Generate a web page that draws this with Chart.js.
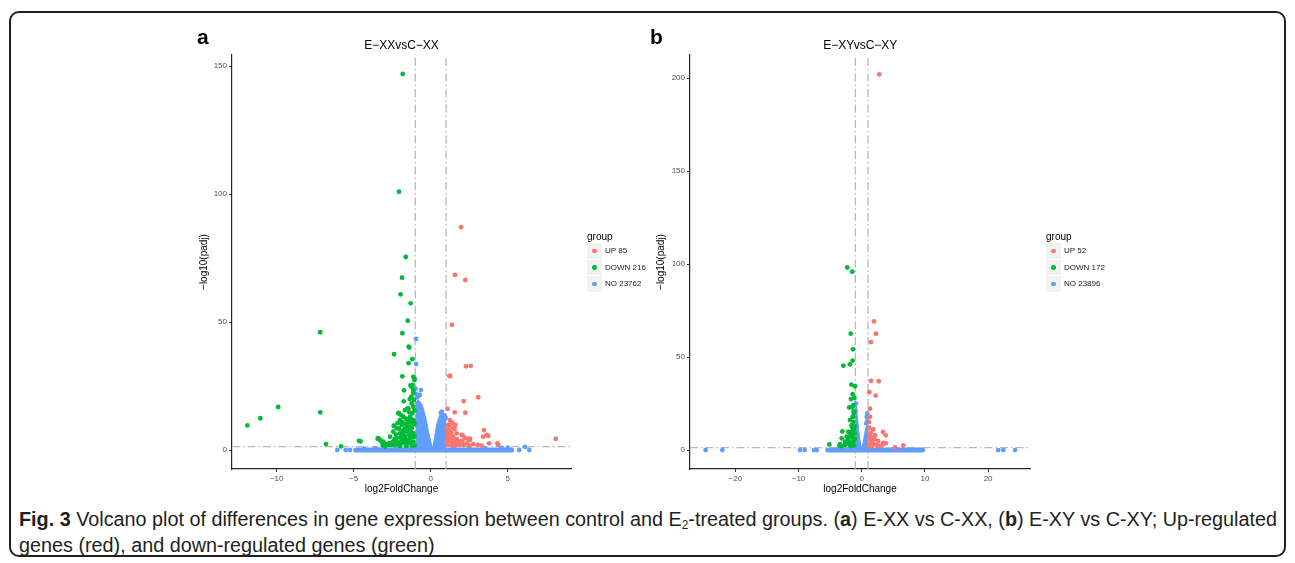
<!DOCTYPE html>
<html><head><meta charset="utf-8">
<script src="https://cdn.jsdelivr.net/npm/chart.js@4.4.1/dist/chart.umd.min.js"></script>
<style>
html,body{margin:0;padding:0;background:#fff;}
body{width:1295px;height:563px;position:relative;overflow:hidden;font-family:"Liberation Sans",Arial,sans-serif;}
.frame{position:absolute;left:9px;top:11px;width:1273px;height:542px;border:2px solid #231f20;border-radius:10px;}
.cv{position:absolute;}
.t{position:absolute;white-space:nowrap;line-height:1;color:#000;}
.key{position:absolute;width:15px;height:15.5px;background:#f2f2f2;}
.dot{position:absolute;width:4.6px;height:4.6px;border-radius:50%;left:5.2px;top:5.45px;}
.cap{position:absolute;left:19px;white-space:nowrap;line-height:1;color:#231f20;font-size:20px;transform-origin:0 0;
 font-family:"Liberation Sans",Arial,sans-serif;}
.cap b{font-weight:bold;}
.cap sub{font-size:12px;vertical-align:-3px;line-height:0;}
</style></head>
<body>
<div class="frame"></div>
<div class="cv" style="left:180px;top:20px;"><canvas id="chartA" width="420" height="480"></canvas></div>
<div class="cv" style="left:640px;top:20px;"><canvas id="chartB" width="420" height="480"></canvas></div>
<div id="labels"></div>
<div class="cap" id="cap1"><b>Fig. 3</b> Volcano plot of differences in gene expression between control and E<sub>2</sub>-treated groups. (<b>a</b>) E-XX vs C-XX, (<b>b</b>) E-XY vs C-XY; Up-regulated</div>
<div class="cap" id="cap2">genes (red), and down-regulated genes (green)</div>
<script>
// ---------------- data: panel a (E-XX vs C-XX) ----------------
const titleA = "E\u2212XXvsC\u2212XX";
const xTicksA = [-10, -5, 0, 5];
const yTicksA = [0, 50, 100, 150];
const xRangeA = [-12.9, 9.11];
const yRangeA = [-7.42, 154.3];
const legendA = ["UP 85", "DOWN 216", "NO 23762"];
const upA = [[1.97,87.1],[1.58,68.4],[2.25,66.4],[1.38,48.9],[2.29,32.7],[2.60,32.9],[1.21,28.9],[1.27,28.9],
 [3.09,20.6],[2.14,19.1],[1.10,16.1],[1.56,14.7],[2.25,14.6],[1.38,10.8],[1.60,9.9],[1.56,8.2],[3.46,7.8],
 [1.34,6.8],[2.08,5.7],[3.74,5.5],[2.44,4.3],[2.55,4.4],[2.05,3.5],[8.12,4.4],[4.33,2.6],[4.39,2.1],[3.79,2.6],
 [3.05,1.95],[3.31,1.7],[2.77,2.3],[1.25,11.7],[1.14,9.8],[1.36,10.4],[1.47,8.5],[1.25,7.2],[1.14,5.9],[1.47,5.2],
 [1.69,6.5],[2.01,5.9],[2.23,4.6],[2.55,3.9],[1.90,3.3],[1.58,3.3],[1.25,3.9],[1.36,2.6],[1.79,2.3],[2.34,2.6],
 [2.12,1.95],[3.64,5.9],[3.40,5.2],[1.10,2.0],[1.10,4.5],[1.60,1.8],[2.50,1.7],[1.05,8.0],
 [1.05,3.0],[1.15,7.9],[1.30,5.5],[1.45,3.6],[1.70,4.2],[1.20,9.0],[1.85,2.0],[1.40,1.8],[1.08,6.2]];
const downA = [[-1.82,146.9],[-2.06,100.9],[-1.62,75.4],[-1.86,67.3],[-1.95,60.8],[-1.30,57.3],[-1.49,50.5],
 [-7.17,46.0],[-1.84,45.6],[-1.39,40.0],[-1.43,40.4],[-2.38,37.4],[-1.19,35.5],[-1.43,33.9],[-1.84,28.8],
 [-1.05,27.9],[-1.05,27.3],[-1.13,28.6],[-1.31,25.2],[-1.24,24.7],[-1.17,25.4],[-1.13,23.4],[-1.73,23.3],
 [-1.13,22.4],[-1.36,19.9],[-9.90,16.8],[-11.06,12.4],[-7.17,14.7],[-11.90,9.6],[-1.54,16.1],[-2.08,14.5],
 [-6.80,2.3],[-5.82,1.4],[-4.66,3.6],[-4.55,3.4],[-3.44,4.4],[-3.29,3.9],[-3.18,3.2],[-3.03,2.6],[-2.86,2.2],
 [-2.71,2.7],[-3.12,1.8],[-2.97,1.3],[-1.23,18.2],[-1.13,16.9],[-1.45,16.3],[-1.67,15.6],[-2.10,14.3],
 [-1.78,13.0],[-1.34,13.0],[-1.56,10.4],[-1.88,9.8],[-2.21,8.5],[-2.43,7.2],[-2.64,5.2],[-1.99,6.5],[-1.56,7.2],
 [-1.23,8.5],[-1.13,11.7],[-1.13,6.5],[-1.34,4.6],[-1.78,3.9],[-2.21,4.6],[-3.40,4.6],[-3.08,3.3],[-2.75,1.95],
 [-2.32,3.3],[-1.88,2.6],[-1.45,2.6],[-1.13,3.3],[-1.20,14.3],[-1.05,10.4],[-1.05,5.2],[-1.45,11.7],[-1.67,5.2],
 [-2.00,11.7],[-1.30,9.1],[-1.05,15.5],[-1.10,19.5],[-1.25,20.8],[-1.60,12.2],[-1.90,4.3],[-2.20,2.2],[-2.45,2.0],
 [-2.40,9.5],[-1.70,8.2],[-1.40,6.0],[-1.05,1.8],[-1.60,1.6],[-1.20,1.6],[-2.00,1.5],[-1.75,19.0],
 [-1.25,12.0],[-1.35,10.8],[-1.50,9.0],[-1.65,10.0],[-1.80,7.5],[-2.05,8.3],[-2.25,6.0],[-2.35,4.2],[-2.10,3.0],
 [-1.95,5.0],[-1.75,6.0],[-1.55,4.0],[-1.35,3.0],[-1.15,5.0],[-1.25,6.8],[-1.45,7.8],[-1.85,11.0],[-2.15,10.5],
 [-1.65,2.8],[-2.45,3.2],[-2.60,2.0],[-1.10,10.0],[-1.40,14.8],[-1.90,13.5]];
const noA = [[-0.95,43.4],[-0.95,33.6],[-0.64,23.4],[-0.71,21.5],[-0.90,20.5],[-0.80,21.0],[-0.98,24.0],
 [-0.97,22.0],[0.72,15.0],[0.67,14.5],[0.97,12.5],[0.90,13.5],[-6.06,0],[-5.52,0],[-5.24,0],[5.75,0],[6.12,1.2],
 [6.40,0],[-1.5,0.9],[1.5,0.8],[2.5,0.9],[-2.3,0.8],[3.5,0.7],[4.6,0.8],[-3.6,0.6],[5.0,0.9],[-4.3,0.5]];
const noBandA = [[-4.87,0],[5.26,0]];
const noLeftWingA = [[-1,18.5],[-0.8,19.5],[-0.55,17.5],[-0.38,14],[-0.26,11],[-0.12,6.5],[0.02,3],[0.12,0.8]];
const noRightWingA = [[0.12,0.8],[0.2,3.2],[0.3,6.8],[0.4,10.2],[0.5,12.2],[0.65,14.2],[0.82,13.2],[1,11.8]];

// ---------------- data: panel b (E-XY vs C-XY) ----------------
const titleB = "E\u2212XYvsC\u2212XY";
const xTicksB = [-20, -10, 0, 10, 20];
const yTicksB = [0, 50, 100, 150, 200];
const xRangeB = [-27.17, 26.63];
const yRangeB = [-10.2, 212.5];
const legendB = ["UP 52", "DOWN 172", "NO 23896"];
const upB = [[2.79,202.1],[1.95,69.2],[2.26,62.6],[1.47,58.1],[1.47,37.2],[2.69,37.0],[1.20,31.1],[2.21,29.3],
 [1.31,22.2],[1.31,17.9],[1.84,11.1],[3.37,9.7],[3.80,7.9],[1.42,9.3],[2.10,8.0],[1.58,6.3],[2.06,5.7],[1.31,3.2],
 [1.84,3.2],[2.37,2.7],[3.42,3.9],[3.84,3.6],[3.32,2.9],[5.27,1.4],[6.58,2.5],[1.15,6.0],[1.20,12.0],[1.10,2.2],
 [1.60,2.0],[2.80,2.2],[1.25,8.0],[1.50,4.5],[2.60,4.8],[1.15,15.0]];
const downB = [[-2.28,98.2],[-1.49,95.9],[-1.74,62.6],[-1.38,54.2],[-1.43,48.1],[-1.85,46.1],[-2.91,45.4],
 [-1.64,35.2],[-1.06,34.3],[-1.43,30.0],[-1.69,27.4],[-1.98,22.9],[-1.50,22.9],[-1.28,20.6],[-1.43,17.9],
 [-1.28,15.2],[-1.54,12.5],[-1.80,8.9],[-2.11,5.4],[-1.43,10.7],[-1.74,7.2],[-2.37,4.5],[-1.28,4.5],[-1.90,2.7],
 [-2.64,2.7],[-3.16,2.1],[-3.06,10.0],[-5.12,3.0],[-3.54,2.3],[-1.33,24.1],[-1.33,17.9],[-1.85,16.1],[-1.58,13.4],
 [-2.12,9.8],[-1.33,10.7],[-2.37,7.2],[-1.58,8.0],[-3.16,6.3],[-2.64,4.5],[-3.43,3.2],[-1.10,13.0],[-1.10,6.0],
 [-1.20,2.5],[-1.60,2.2],[-1.10,9.0],[-1.15,28.0],[-1.20,20.0],[-1.70,4.0],[-1.40,6.5],[-2.00,3.5],[-1.25,11.5]];
const noB = [[-0.90,25.0],[0.89,19.7],[0.79,17.9],[0.73,14.3],[0.92,15.5],[-0.95,21.0],[-24.70,0],[-22.05,0],
 [-9.76,0],[-9.02,0],[-7.54,0],[-7.12,0],[21.60,0],[22.40,0],[24.26,0]];
const noBandB = [[-5.38,0],[9.65,0]];
const noLeftWingB = [[-1,22],[-0.88,24],[-0.72,19],[-0.55,13],[-0.38,8],[-0.18,3.5],[0.05,1]];
const noRightWingB = [[0.05,1],[0.25,4.5],[0.45,8.5],[0.62,11.5],[0.8,13.5],[1,12.5]];

// thresholds
const fcCut = [-1, 1];
const padjCut = 1.3;

// ---------------- drawing ----------------
const COL = {up:'#F8766D', down:'#00BA38', no:'#619CFF'};
const FONT = '"Liberation Sans", Arial, sans-serif';
function pts(a){ return a.map(p => ({x:p[0], y:p[1]})); }
function fmt(v){ return v < 0 ? '\u2212' + Math.abs(v) : String(v); }

function panel(id, d){
  const ds = [];
  const dash = {showLine:true, borderColor:'#b8b8b8', borderWidth:1.3, borderDash:[8,3,1.5,3], pointRadius:0, order:30};
  fcCut.forEach(v => ds.push(Object.assign({data: pts([[v, d.yRange[0]], [v, d.yRange[1]]])}, dash)));
  ds.push(Object.assign({data: pts([[d.xRange[0], padjCut], [d.xRange[1], padjCut]])}, dash));
  ds.push({data: pts(d.band), showLine:true, borderColor:COL.no, borderWidth:5, borderCapStyle:'round', pointRadius:0, order:26});
  [d.lw, d.rw].forEach(w => ds.push({data: pts(w), showLine:true, borderColor:COL.no, backgroundColor:COL.no,
     borderWidth:1, tension:0.3, fill:'origin', pointRadius:0, order:25}));
  const P = {pointRadius:2.4, borderWidth:0, pointBorderWidth:0, showLine:false};
  ds.push(Object.assign({data: pts(d.no), backgroundColor:COL.no, pointBackgroundColor:COL.no, order:20}, P));
  ds.push(Object.assign({data: pts(d.down), backgroundColor:COL.down, pointBackgroundColor:COL.down, order:15}, P));
  ds.push(Object.assign({data: pts(d.up), backgroundColor:COL.up, pointBackgroundColor:COL.up, order:10}, P));

  const axis = (ticks, range, isX) => ({
    type:'linear', min:range[0], max:range[1],
    afterBuildTicks: s => { s.ticks = ticks.map(v => ({value:v})); },
    afterFit: s => { if (isX) s.height = 31; else s.width = d.yw; },
    grid:{display:true, drawOnChartArea:false, drawTicks:true, tickLength:3, color:'#333', lineWidth:1},
    border:{display:true, color:'#262626', width:1.2},
    ticks:{color:'#4d4d4d', padding:2, font:{size:8, family:FONT}, callback: v => fmt(v), maxRotation:0, autoSkip:false}
  });
  new Chart(document.getElementById(id), {
    type:'scatter',
    data:{datasets: ds},
    options:{
      responsive:false, devicePixelRatio:1, animation:false, events:[],
      layout:{padding:{top:35, right:d.pr, bottom:0, left:0}},
      plugins:{legend:{display:false}, tooltip:{enabled:false}, title:{display:false}},
      scales:{ x: axis(d.xt, d.xRange, true), y: axis(d.yt, d.yRange, false) }
    }
  });
}

panel('chartA', {xt:xTicksA, yt:yTicksA, xRange:xRangeA, yRange:yRangeA, up:upA, down:downA, no:noA,
  band:noBandA, lw:noLeftWingA, rw:noRightWingA, yw:52, pr:29});
panel('chartB', {xt:xTicksB, yt:yTicksB, xRange:xRangeB, yRange:yRangeB, up:upB, down:downB, no:noB,
  band:noBandB, lw:noLeftWingB, rw:noRightWingB, yw:50, pr:30});

// ---------------- text & legends ----------------
const L = document.getElementById('labels');
function txt(s, x, baseline, fs, o){
  o = o || {};
  const e = document.createElement('div');
  e.className = 't';
  e.textContent = s;
  e.style.fontSize = fs + 'px';
  e.style.left = x + 'px';
  e.style.top = (baseline - 0.8465 * fs) + 'px';
  if (o.bold) e.style.fontWeight = 'bold';
  if (o.color) e.style.color = o.color;
  if (o.center) e.style.transform = 'translateX(-50%)';
  L.appendChild(e);
  return e;
}
function ytitle(s, cx, cy, fs){
  const e = document.createElement('div');
  e.className = 't';
  e.textContent = s;
  e.style.fontSize = fs + 'px';
  e.style.left = cx + 'px';
  e.style.top = cy + 'px';
  e.style.transform = 'translate(-50%,-50%) rotate(-90deg)';
  L.appendChild(e);
}
function legend(x, items){
  txt('group', x, 240.6, 10);
  const cols = [COL.up, COL.down, COL.no];
  const centers = [251, 267.5, 284];
  items.forEach((s, i) => {
    const k = document.createElement('div');
    k.className = 'key';
    k.style.left = x + 'px';
    k.style.top = (centers[i] - 7.75) + 'px';
    const dt = document.createElement('div');
    dt.className = 'dot';
    dt.style.background = cols[i];
    k.appendChild(dt);
    L.appendChild(k);
    txt(s, x + 18, centers[i] + 2.9, 8, {color:'#1a1a1a'});
  });
}
txt('a', 197, 43.5, 21, {bold:true});
txt('b', 650, 43.5, 21, {bold:true});
txt(titleA, 401.5, 49.3, 12, {center:true});
txt(titleB, 860.3, 49.3, 12, {center:true});
ytitle('\u2212log10(padj)', 203.5, 262, 10);
ytitle('\u2212log10(padj)', 661, 262, 10);
txt('log2FoldChange', 401.5, 492.6, 10, {center:true});
txt('log2FoldChange', 860, 492.6, 10, {center:true});
legend(587, legendA);
legend(1046, legendB);

// caption: fit the first line to the reference width
const c1 = document.getElementById('cap1'), c2 = document.getElementById('cap2');
c1.style.top = (526 - 0.85 * 20) + 'px';
c2.style.top = (552 - 0.85 * 20) + 'px';
function fitCap(){
  c1.style.transform = 'none'; c2.style.transform = 'none';
  const w = c1.getBoundingClientRect().width;
  const s = 1258 / w;
  c1.style.transform = 'scaleX(' + s + ')';
  c2.style.transform = 'scaleX(' + s + ')';
}
fitCap();
if (document.fonts && document.fonts.ready) document.fonts.ready.then(fitCap);
</script>
</body></html>
